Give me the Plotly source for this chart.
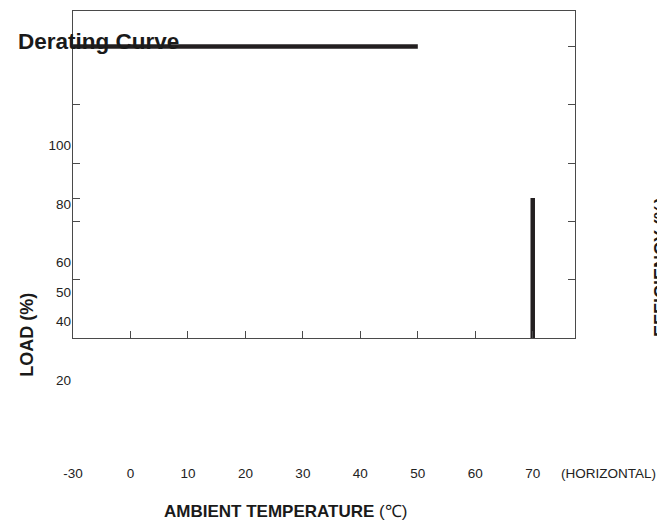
import plotly.graph_objects as go

# ---------------- data ----------------
temps_flat = [-30, 50]          # full-load plateau (°C)
load_flat = [100, 100]          # %
temps_cut = [70, 70]            # cut-off edge (°C)
load_cut = [0, 48]              # %

x_tick_temps = [-30, 0, 10, 20, 30, 40, 50, 60, 70]
x_tick_labels = ["-30", "0", "10", "20", "30", "40", "50", "60", "70"]
bottom_tick_temps = [0, 10, 20, 30, 40, 50, 60, 70]

y_label_vals = [100, 80, 60, 50, 40, 20]
y_label_text = ["100", "80", "60", "50", "40", "20"]
left_tick_vals = [20, 40, 48, 60, 80]
right_tick_vals = [20, 40, 60, 80, 100]


def axis_pos(t):
    """Broken temperature axis: the -30..0 span is compressed into one 10° step."""
    return t if t >= 0 else t / 3.0


W, H = 657, 522
FONT = "Liberation Sans, Arial, sans-serif"
INK = "#231f20"
AXC = "#4a4a4a"


def fx(px):
    return px / W


def fy(py):
    return 1 - py / H


X_RANGE = [-10, 77.4]
Y_RANGE = [0, 112.2]
LBL_RANGE = [-28.2, 149.3]
dom_x = [fx(64), fx(574)]
dom_y = [fy(338), fy(11)]

fig = go.Figure()

fig.add_trace(go.Scatter(
    x=[axis_pos(t) for t in temps_flat], y=load_flat, mode="lines",
    line=dict(color=INK, width=4.5), hoverinfo="skip", showlegend=False))
fig.add_trace(go.Scatter(
    x=[axis_pos(t) for t in temps_cut], y=load_cut, mode="lines",
    line=dict(color=INK, width=4.5), hoverinfo="skip", showlegend=False))
# invisible anchor trace for the label axes
fig.add_trace(go.Scatter(
    x=[axis_pos(t) for t in x_tick_temps[:1]], y=y_label_vals[:1], xaxis="x2", yaxis="y2",
    mode="markers", marker=dict(opacity=0), hoverinfo="skip", showlegend=False))
# invisible anchor for right tick axis
fig.add_trace(go.Scatter(
    x=[axis_pos(t) for t in temps_flat], y=load_flat, yaxis="y3",
    mode="markers", marker=dict(opacity=0), hoverinfo="skip", showlegend=False))

fig.update_layout(
    width=W, height=H,
    margin=dict(l=0, r=0, t=0, b=0),
    paper_bgcolor="white", plot_bgcolor="rgba(0,0,0,0)",
    font=dict(family=FONT, color="#222"),
    xaxis=dict(domain=dom_x, range=X_RANGE, anchor="y",
               showgrid=False, zeroline=False, showline=True, mirror=True,
               linecolor=AXC, linewidth=1,
               tickmode="array", tickvals=[axis_pos(t) for t in bottom_tick_temps],
               ticks="inside", ticklen=7, tickcolor=AXC, tickwidth=1.2, showticklabels=False),
    yaxis=dict(domain=dom_y, range=Y_RANGE, anchor="x",
               showgrid=False, zeroline=False, showline=True, mirror=True,
               linecolor=AXC, linewidth=1,
               tickmode="array", tickvals=left_tick_vals,
               ticks="inside", ticklen=7, tickcolor=AXC, tickwidth=1.2, showticklabels=False),
    yaxis3=dict(overlaying="y", side="right", anchor="x", range=Y_RANGE,
                showgrid=False, zeroline=False, showline=False,
                tickmode="array", tickvals=right_tick_vals,
                ticks="inside", ticklen=7, tickcolor=AXC, tickwidth=1.2, showticklabels=False),
    xaxis2=dict(domain=dom_x, range=X_RANGE, anchor="free", position=fy(463),
                showgrid=False, zeroline=False, showline=False, ticks="",
                tickmode="array", tickvals=[axis_pos(t) for t in x_tick_temps],
                ticktext=x_tick_labels, tickfont=dict(size=13.5, family=FONT, color="#222")),
    yaxis2=dict(domain=[0, 1], range=LBL_RANGE, anchor="free", position=fx(62),
                showgrid=False, zeroline=False, showline=False, ticks="",
                tickmode="array", tickvals=y_label_vals,
                ticktext=y_label_text, tickfont=dict(size=13.5, family=FONT, color="#222")),
    annotations=[
        dict(text="<b>Derating Curve</b>", xref="paper", yref="paper",
             x=fx(6), y=fy(41.5), xanchor="left", yanchor="middle", showarrow=False,
             font=dict(size=22.5, family=FONT, color="#1a1a1a")),
        dict(text="<b>LOAD (%)</b>", xref="paper", yref="paper", textangle=-90,
             x=fx(17), y=fy(335), xanchor="center", yanchor="middle", showarrow=False,
             font=dict(size=18, family=FONT, color="#1a1a1a")),
        dict(text="<b>AMBIENT TEMPERATURE</b> (℃)", xref="paper", yref="paper",
             x=fx(280), y=fy(511), xanchor="center", yanchor="middle", showarrow=False,
             font=dict(size=17, family=FONT, color="#1a1a1a")),
        dict(text="<b>EFFICIENCY (%)</b>", xref="paper", yref="paper", textangle=-90,
             x=fx(661), y=fy(267), xanchor="center", yanchor="middle", showarrow=False,
             font=dict(size=18, family=FONT, color="#1a1a1a")),
        dict(text="(HORIZONTAL)", xref="paper", yref="paper",
             x=fx(557), y=fy(473), xanchor="left", yanchor="middle", showarrow=False,
             font=dict(size=13.5, family=FONT, color="#222")),
    ],
)

fig.write_html("out.html", config={"displayModeBar": False},
               post_script="document.body.style.margin='0';")
